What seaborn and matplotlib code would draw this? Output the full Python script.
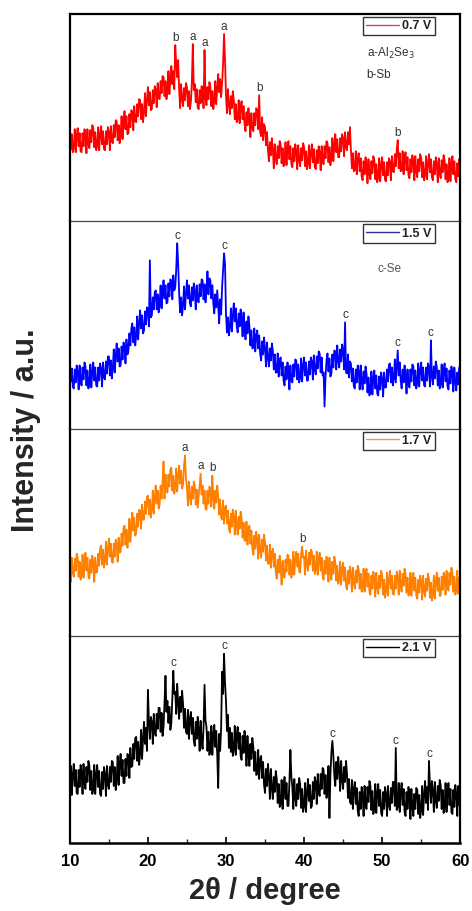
import numpy as np
import pandas as pd
import matplotlib
matplotlib.use("Agg")
import matplotlib.pyplot as plt
import seaborn as sns

# 2-theta grid of the scans (degrees), 0.125 deg step
two_theta = np.arange(10.0, 60.0001, 0.125)

# Diffraction intensities (a.u.), one row per degree, one list per cut-off voltage
i_07V = [
    91, 72, 87, 69, 73, 92, 69, 85,        # 10
    93, 75, 88, 70, 69, 88, 75, 92,        # 11
    86, 68, 92, 77, 73, 91, 79, 96,        # 12
    93, 74, 89, 71, 75, 94, 71, 87,        # 13
    95, 77, 90, 72, 71, 90, 77, 94,        # 14
    89, 71, 95, 80, 78, 96, 84, 101,       # 15
    100, 81, 96, 78, 86, 105, 82, 98,      # 16
    110, 92, 105, 87, 88, 107, 94, 111,    # 17
    109, 91, 115, 100, 99, 117, 105, 122,  # 18
    121, 102, 117, 99, 109, 128, 105, 121, # 19
    134, 116, 129, 111, 112, 131, 118, 135,# 20
    132, 114, 138, 123, 122, 140, 128, 145,# 21
    144, 125, 140, 122, 131, 150, 127, 143,# 22
    155, 137, 150, 132, 176, 157, 144, 161,# 23
    131, 113, 137, 122, 115, 133, 121, 138,# 24
    134, 115, 130, 112, 119, 138, 177, 131,# 25
    137, 119, 132, 114, 112, 131, 118, 135,# 26
    131, 113, 171, 122, 116, 134, 122, 139,# 27
    134, 115, 130, 112, 121, 140, 117, 133,# 28
    147, 129, 142, 124, 138, 157, 187, 161,# 29
    126, 108, 132, 117, 107, 125, 113, 130,# 30
    121, 102, 117, 99, 102, 121, 98, 114,  # 31
    120, 102, 115, 97, 90, 109, 96, 113,   # 32
    102, 84, 108, 93, 90, 108, 96, 113,    # 33
    111, 92, 126, 89, 85, 104, 81, 97,     # 34
    94, 76, 89, 71, 60, 79, 66, 83,        # 35
    71, 53, 77, 62, 57, 75, 63, 80,        # 36
    77, 58, 73, 55, 60, 79, 56, 72,        # 37
    80, 62, 75, 57, 54, 73, 60, 77,        # 38
    70, 52, 76, 61, 55, 73, 61, 78,        # 39
    74, 55, 70, 52, 57, 76, 53, 69,        # 40
    77, 59, 72, 54, 52, 71, 58, 75,        # 41
    69, 51, 75, 60, 57, 75, 63, 80,        # 42
    78, 59, 74, 56, 64, 83, 60, 76,        # 43
    87, 69, 82, 64, 64, 83, 70, 87,        # 44
    83, 65, 89, 74, 71, 89, 77, 94,        # 45
    72, 53, 68, 50, 51, 70, 47, 63,        # 46
    68, 50, 63, 45, 41, 60, 47, 64,        # 47
    56, 38, 62, 47, 42, 60, 48, 65,        # 48
    61, 42, 57, 39, 44, 63, 40, 56,        # 49
    64, 46, 59, 41, 40, 59, 46, 63,        # 50
    59, 41, 65, 50, 49, 67, 55, 72,        # 51
    81, 53, 68, 50, 51, 70, 47, 63,        # 52
    69, 51, 64, 46, 43, 62, 49, 66,        # 53
    59, 41, 65, 50, 44, 62, 50, 67,        # 54
    63, 44, 59, 41, 46, 65, 42, 58,        # 55
    67, 49, 62, 44, 41, 60, 47, 64,        # 56
    57, 39, 63, 48, 43, 61, 49, 66,        # 57
    61, 42, 57, 39, 44, 63, 40, 56,        # 58
    65, 47, 60, 42, 39, 58, 45, 62,        # 59
    51,                                    # 60
]

i_15V = [
    65, 47, 60, 42, 40, 59, 46, 63,        # 10
    57, 39, 63, 48, 43, 61, 49, 66,        # 11
    62, 43, 58, 40, 45, 64, 41, 57,        # 12
    66, 48, 61, 43, 42, 61, 48, 65,        # 13
    60, 42, 66, 51, 49, 67, 55, 72,        # 14
    72, 53, 68, 50, 60, 79, 56, 72,        # 15
    85, 67, 80, 62, 63, 82, 69, 86,        # 16
    83, 65, 89, 74, 77, 95, 83, 100,       # 17
    105, 86, 101, 83, 93, 112, 89, 105,    # 18
    118, 100, 113, 95, 98, 117, 104, 121,  # 19
    120, 102, 168, 111, 113, 131, 119, 136,# 20
    138, 119, 134, 116, 124, 143, 120, 136,# 21
    148, 130, 143, 125, 126, 145, 132, 149,# 22
    147, 129, 153, 138, 141, 159, 185, 164,# 23
    135, 116, 131, 113, 123, 142, 119, 135,# 24
    148, 130, 143, 125, 122, 141, 128, 145,# 25
    137, 119, 143, 128, 126, 144, 132, 149,# 26
    148, 129, 144, 126, 138, 157, 134, 150,# 27
    148, 130, 143, 125, 115, 134, 121, 138,# 28
    123, 105, 129, 114, 141, 159, 175, 164,# 29
    115, 96, 111, 93, 101, 120, 97, 113,   # 30
    125, 107, 120, 102, 96, 115, 102, 119, # 31
    110, 92, 116, 101, 89, 107, 95, 112,   # 32
    102, 83, 98, 80, 81, 100, 77, 93,      # 33
    98, 80, 93, 75, 68, 87, 74, 91,        # 34
    80, 62, 86, 71, 62, 80, 68, 85,        # 35
    78, 59, 74, 56, 56, 75, 52, 68,        # 36
    71, 53, 66, 48, 43, 62, 49, 66,        # 37
    57, 39, 63, 48, 46, 64, 52, 69,        # 38
    68, 49, 64, 46, 51, 70, 47, 63,        # 39
    71, 53, 66, 48, 48, 67, 54, 71,        # 40
    67, 49, 73, 58, 54, 72, 60, 77,        # 41
    75, 56, 71, 53, 56, 22, 52, 68,        # 42
    75, 57, 70, 52, 55, 74, 61, 78,        # 43
    77, 59, 83, 68, 61, 79, 67, 84,        # 44
    78, 59, 106, 56, 55, 74, 51, 67,       # 45
    65, 47, 60, 42, 40, 59, 46, 63,        # 46
    57, 39, 63, 48, 39, 57, 45, 62,        # 47
    55, 36, 51, 33, 38, 57, 34, 50,        # 48
    58, 40, 53, 35, 33, 52, 39, 56,        # 49
    50, 32, 56, 41, 41, 59, 47, 64,        # 50
    65, 46, 61, 43, 50, 69, 46, 62,        # 51
    78, 53, 66, 48, 40, 59, 46, 63,        # 52
    53, 35, 59, 44, 41, 59, 47, 64,        # 53
    62, 43, 58, 40, 46, 65, 42, 58,        # 54
    66, 48, 61, 43, 42, 61, 48, 65,        # 55
    60, 42, 88, 51, 44, 62, 50, 67,        # 56
    62, 43, 58, 40, 45, 64, 41, 57,        # 57
    65, 47, 60, 42, 39, 58, 45, 62,        # 58
    55, 37, 61, 46, 38, 56, 44, 61,        # 59
    45,                                    # 60
]

i_17V = [
    72, 54, 78, 63, 59, 77, 65, 82,        # 10
    78, 59, 74, 56, 62, 81, 58, 74,        # 11
    83, 65, 78, 60, 57, 76, 63, 80,        # 12
    72, 54, 78, 63, 64, 82, 70, 87,        # 13
    90, 71, 86, 68, 75, 94, 71, 87,        # 14
    97, 79, 92, 74, 73, 92, 79, 96,        # 15
    92, 74, 98, 83, 84, 102, 90, 107,      # 16
    110, 91, 106, 88, 98, 117, 94, 110,    # 17
    123, 105, 118, 100, 103, 122, 109, 126,# 18
    125, 107, 131, 116, 116, 134, 122, 139,# 19
    140, 121, 136, 118, 126, 145, 122, 138,# 20
    150, 132, 145, 127, 131, 150, 137, 154,# 21
    174, 137, 161, 146, 143, 161, 149, 166,# 22
    168, 145, 160, 142, 148, 167, 144, 160,# 23
    170, 152, 165, 147, 151, 170, 180, 157,# 24
    148, 130, 154, 139, 131, 149, 137, 154,# 25
    150, 131, 146, 128, 139, 150, 162, 141,# 26
    150, 132, 145, 127, 126, 145, 132, 149,# 27
    147, 129, 160, 138, 127, 145, 133, 150,# 28
    140, 121, 136, 118, 116, 135, 112, 128,# 29
    130, 112, 125, 107, 103, 122, 109, 126,# 30
    119, 101, 125, 110, 101, 119, 107, 124,# 31
    117, 98, 113, 95, 95, 114, 91, 107,    # 32
    110, 92, 105, 87, 81, 100, 87, 104,    # 33
    95, 77, 101, 86, 78, 96, 84, 101,      # 34
    94, 75, 90, 72, 72, 91, 68, 84,        # 35
    87, 69, 82, 64, 57, 76, 63, 80,        # 36
    69, 51, 75, 60, 58, 76, 64, 81,        # 37
    80, 61, 76, 58, 65, 84, 61, 77,        # 38
    84, 69, 82, 64, 63, 82, 89, 78,        # 39
    79, 61, 85, 70, 65, 83, 71, 86,        # 40
    84, 65, 80, 62, 65, 84, 61, 77,        # 41
    83, 65, 78, 60, 56, 75, 62, 79,        # 42
    72, 54, 78, 63, 56, 74, 62, 79,        # 43
    74, 55, 70, 52, 55, 74, 51, 67,        # 44
    73, 55, 68, 50, 46, 65, 52, 69,        # 45
    62, 44, 68, 53, 47, 65, 53, 70,        # 46
    66, 47, 62, 44, 48, 67, 44, 60,        # 47
    67, 49, 62, 44, 41, 60, 47, 64,        # 48
    57, 39, 63, 48, 42, 60, 48, 65,        # 49
    60, 41, 56, 38, 44, 63, 40, 56,        # 50
    65, 47, 60, 42, 41, 60, 47, 64,        # 51
    59, 41, 65, 50, 44, 62, 50, 67,        # 52
    62, 43, 58, 40, 44, 63, 40, 56,        # 53
    63, 45, 58, 40, 37, 56, 43, 60,        # 54
    54, 36, 60, 45, 39, 57, 45, 62,        # 55
    57, 38, 53, 35, 41, 60, 37, 53,        # 56
    63, 45, 58, 40, 40, 59, 46, 63,        # 57
    59, 41, 65, 50, 45, 63, 51, 68,        # 58
    63, 44, 59, 41, 46, 65, 42, 58,        # 59
    54,                                    # 60
]

i_21V = [
    53, 77, 48, 68, 79, 57, 73, 50,        # 10
    49, 73, 56, 78, 71, 49, 79, 60,        # 11
    54, 76, 61, 82, 77, 53, 72, 49,        # 12
    54, 78, 49, 69, 78, 56, 72, 49,        # 13
    47, 71, 54, 76, 69, 47, 77, 58,        # 14
    54, 76, 61, 82, 81, 57, 76, 53,        # 15
    63, 87, 58, 78, 89, 67, 83, 60,        # 16
    60, 84, 67, 89, 87, 65, 95, 76,        # 17
    77, 99, 84, 105, 106, 82, 101, 78,     # 18
    89, 113, 84, 104, 121, 99, 115, 92,    # 19
    153, 121, 104, 126, 121, 99, 129, 110, # 20
    107, 129, 114, 135, 135, 111, 130, 107,# 21
    116, 140, 167, 131, 142, 120, 136, 113,# 22
    120, 144, 172, 149, 151, 129, 159, 140,# 23
    124, 146, 131, 152, 139, 115, 134, 111,# 24
    109, 133, 104, 124, 131, 109, 125, 102,# 25
    97, 121, 104, 126, 114, 92, 122, 103,  # 26
    94, 116, 158, 122, 116, 92, 111, 88,   # 27
    93, 117, 88, 108, 118, 96, 112, 89,    # 28
    55, 109, 92, 114, 171, 149, 189, 160,  # 29
    142, 112, 128, 95, 115, 91, 110, 87,   # 30
    93, 117, 88, 108, 116, 94, 110, 87,    # 31
    83, 107, 90, 112, 99, 77, 107, 88,     # 32
    77, 99, 84, 105, 96, 72, 91, 68,       # 33
    69, 93, 64, 84, 87, 65, 81, 58,        # 34
    50, 74, 57, 79, 66, 44, 74, 55,        # 35
    44, 66, 51, 72, 64, 40, 59, 36,        # 36
    39, 63, 34, 54, 66, 44, 60, 37,        # 37
    37, 61, 93, 66, 56, 34, 64, 45,        # 38
    37, 59, 44, 65, 59, 35, 54, 31,        # 39
    36, 60, 31, 51, 64, 42, 58, 35,        # 40
    37, 61, 44, 66, 61, 39, 69, 50,        # 41
    47, 69, 54, 75, 73, 49, 68, 45,        # 42
    53, 77, 25, 68, 90, 102, 88, 67,       # 43
    57, 81, 64, 86, 74, 52, 82, 63,        # 44
    54, 76, 61, 82, 69, 45, 64, 41,        # 45
    39, 63, 34, 54, 61, 39, 55, 32,        # 46
    27, 51, 34, 56, 49, 27, 57, 38,        # 47
    34, 56, 41, 62, 57, 33, 52, 29,        # 48
    35, 59, 30, 50, 59, 37, 53, 30,        # 49
    27, 51, 34, 56, 49, 27, 57, 38,        # 50
    33, 55, 40, 61, 61, 37, 95, 33,        # 51
    36, 60, 31, 51, 60, 38, 54, 31,        # 52
    27, 51, 34, 56, 46, 24, 54, 35,        # 53
    27, 49, 34, 55, 53, 29, 48, 25,        # 54
    33, 57, 28, 48, 62, 40, 56, 33,        # 55
    82, 57, 40, 62, 53, 31, 61, 42,        # 56
    35, 57, 42, 63, 58, 34, 53, 30,        # 57
    36, 60, 31, 51, 60, 38, 54, 31,        # 58
    29, 53, 36, 58, 49, 27, 57, 38,        # 59
    42,                                    # 60
]

voltages = ["0.7 V", "1.5 V", "1.7 V", "2.1 V"]
colors = ["#ff0000", "#0000ff", "#ff8000", "#000000"]
legend_line_colors = ["#c8505a", "#3030a0", "#d8a060", "#000000"]

# Reflection markers: (2-theta, letter)
peaks_07V = [(23.5, "b"), (25.75, "a"), (27.25, "a"), (29.75, "a"), (34.25, "b"), (52.0, "b")]
peaks_15V = [(23.75, "c"), (29.75, "c"), (45.25, "c"), (52.0, "c"), (56.25, "c")]
peaks_17V = [(24.75, "a"), (26.75, "a"), (28.25, "b"), (39.75, "b")]
peaks_21V = [(23.25, "c"), (29.75, "c"), (43.625, "c"), (51.75, "c"), (56.0, "c")]

series = [i_07V, i_15V, i_17V, i_21V]
peak_sets = [peaks_07V, peaks_15V, peaks_17V, peaks_21V]

sns.set_theme(style="ticks")
plt.rcParams["font.family"] = ["Liberation Sans", "DejaVu Sans"]

fig = plt.figure(figsize=(4.72, 9.11), dpi=100)
axes = fig.subplots(4, 1, sharex=True, gridspec_kw=dict(hspace=0))
fig.subplots_adjust(left=0.148, right=0.975, bottom=0.0746, top=0.9846)

for k, ax in enumerate(axes):
    ax.set_facecolor("none")
    df = pd.DataFrame({"two_theta": two_theta, "intensity": series[k]})
    sns.lineplot(data=df, x="two_theta", y="intensity", ax=ax, color=colors[k],
                 lw=1.3, estimator=None, sort=False, legend=False)
    ax.set_xlim(10, 60)
    ax.set_ylim(0, 207)
    ax.set_ylabel("")
    ax.set_xlabel("")
    ax.set_yticks([])

    # peak letters sit just above the reading at each reflection
    y_arr = np.asarray(series[k], dtype=float)
    for pos, letter in peak_sets[k]:
        idx = int(np.argmin(np.abs(two_theta - pos)))
        ax.annotate(letter, (two_theta[idx], y_arr[idx]), xytext=(0, 1.0),
                    textcoords="offset points", ha="center", va="bottom",
                    fontsize=8.5, color="#333333")

    handle = plt.Line2D([], [], color=legend_line_colors[k], lw=1.0)
    leg = ax.legend([handle], [voltages[k]], loc="upper right",
                    bbox_to_anchor=(0.935, 0.985), frameon=True, fancybox=False,
                    handlelength=2.6, handletextpad=0.3, borderpad=0.25,
                    borderaxespad=0.0, prop=dict(weight="bold", size=9))
    leg.get_frame().set_edgecolor("black")
    leg.get_frame().set_linewidth(1.0)
    for t in leg.get_texts():
        t.set_color("#222222")

    for side in ["left", "right"]:
        ax.spines[side].set_linewidth(1.6)
        ax.spines[side].set_color("black")
    if k > 0:
        ax.spines["top"].set_visible(False)
    else:
        ax.spines["top"].set_linewidth(1.6)
        ax.spines["top"].set_color("black")
    if k < 3:
        ax.spines["bottom"].set_linewidth(0.9)
        ax.spines["bottom"].set_color("#444444")
        ax.spines["bottom"].set_zorder(5)
        ax.tick_params(axis="x", which="both", bottom=False, labelbottom=False)
    else:
        ax.spines["bottom"].set_linewidth(1.8)
        ax.spines["bottom"].set_color("black")

# phase keys
axes[0].text(0.76, 0.81, "a-Al$_2$Se$_3$", transform=axes[0].transAxes,
             fontsize=8.5, color="#333333", va="center", ha="left")
axes[0].text(0.76, 0.705, "b-Sb", transform=axes[0].transAxes,
             fontsize=8.5, color="#333333", va="center", ha="left")
axes[1].text(0.787, 0.77, "c-Se", transform=axes[1].transAxes,
             fontsize=8.5, color="#555555", va="center", ha="left")

bottom = axes[3]
bottom.set_xticks([10, 20, 30, 40, 50, 60])
bottom.set_xticks([15, 25, 35, 45, 55], minor=True)
bottom.tick_params(axis="x", which="major", direction="in", length=4, width=1.2,
                   labelsize=12, pad=8, colors="black")
bottom.tick_params(axis="x", which="minor", direction="in", length=3, width=1.0, bottom=True)
for lbl in bottom.get_xticklabels():
    lbl.set_fontweight("bold")
bottom.set_xlabel("2θ / degree", fontsize=21, fontweight="bold", labelpad=6)

fig.text(0.055, 0.528, "Intensity / a.u.", rotation=90, ha="center", va="center",
         fontsize=22, fontweight="bold")

fig.savefig("out.png", dpi=100)
